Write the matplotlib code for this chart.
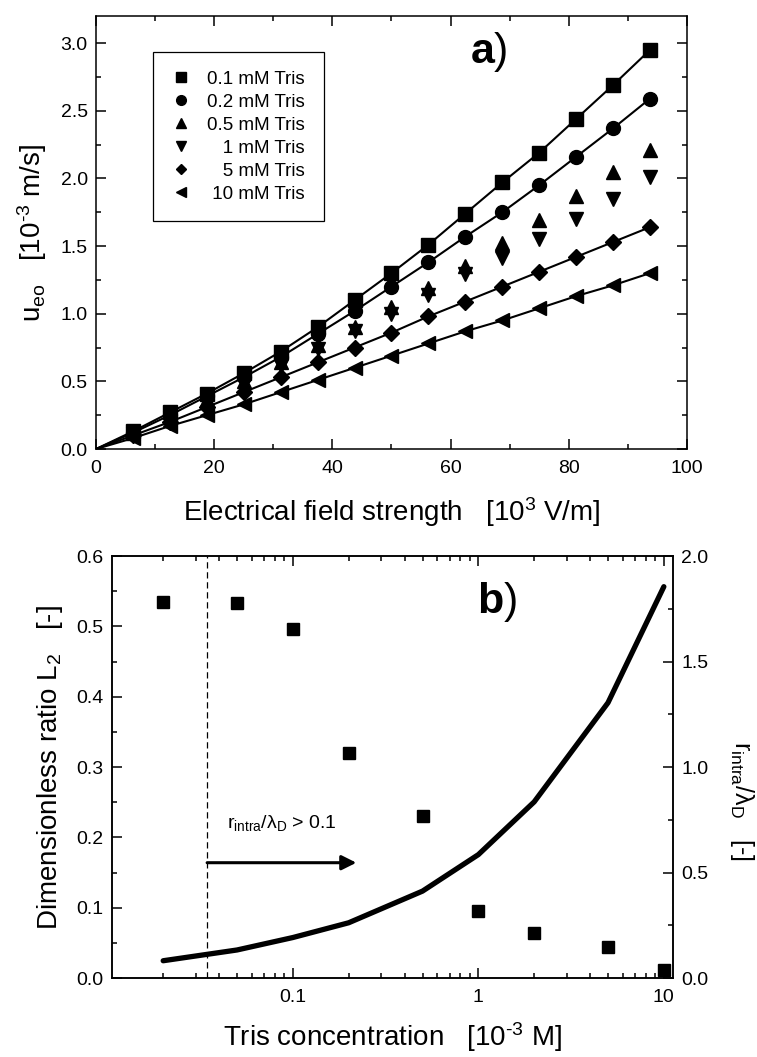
import numpy as np
import matplotlib
matplotlib.use('Agg')
import matplotlib.pyplot as plt
from matplotlib.ticker import MultipleLocator, LogLocator, FuncFormatter, NullFormatter

plt.rcParams['font.family'] = ['Liberation Sans', 'DejaVu Sans']
plt.rcParams['mathtext.fontset'] = 'custom'
plt.rcParams['mathtext.rm'] = 'Liberation Sans'
plt.rcParams['mathtext.it'] = 'Liberation Sans:italic'
plt.rcParams['mathtext.bf'] = 'Liberation Sans:bold'
plt.rcParams['axes.linewidth'] = 1.1

# panel a) electroosmotic velocity vs field strength
field = [6.25, 12.5, 18.75, 25.0, 31.25, 37.5, 43.75, 50.0, 56.25, 62.5, 68.75, 75.0, 81.25, 87.5, 93.75]
u_01 = [0.13, 0.27, 0.41, 0.56, 0.72, 0.90, 1.10, 1.30, 1.51, 1.74, 1.97, 2.19, 2.44, 2.69, 2.95]
u_02 = [0.12, 0.25, 0.39, 0.53, 0.68, 0.85, 1.02, 1.20, 1.38, 1.57, 1.75, 1.95, 2.16, 2.37, 2.59]
u_05 = [0.12, 0.24, 0.37, 0.50, 0.64, 0.77, 0.90, 1.05, 1.19, 1.35, 1.52, 1.69, 1.87, 2.05, 2.21]
u_1 = [0.11, 0.23, 0.35, 0.48, 0.61, 0.74, 0.87, 1.00, 1.14, 1.29, 1.41, 1.55, 1.70, 1.85, 2.01]
u_5 = [0.10, 0.20, 0.31, 0.42, 0.53, 0.64, 0.75, 0.86, 0.98, 1.09, 1.20, 1.31, 1.42, 1.53, 1.64]
u_10 = [0.08, 0.17, 0.25, 0.33, 0.42, 0.51, 0.60, 0.69, 0.78, 0.87, 0.95, 1.04, 1.13, 1.21, 1.30]
labels_a = ['0.1 mM Tris', '0.2 mM Tris', '0.5 mM Tris', '   1 mM Tris', '   5 mM Tris', ' 10 mM Tris']

# panel b) L2 ratio and r_intra/lambda_D vs Tris concentration
conc = [0.02, 0.05, 0.1, 0.2, 0.5, 1, 2, 5, 10]
L2 = [0.535, 0.533, 0.497, 0.320, 0.230, 0.095, 0.064, 0.044, 0.012]
r_ratio = [0.082, 0.133, 0.192, 0.262, 0.412, 0.585, 0.835, 1.305, 1.855]
c_limit = 0.0345

fig = plt.figure(figsize=(7.57, 10.57), dpi=100)
ax = fig.add_axes([0.1268, 0.5752, 0.7807, 0.4096])

series = [u_01, u_02, u_05, u_1, u_5, u_10]
markers = ['s', 'o', '^', 'v', 'D', '<']
msizes = [9.5, 10, 10, 10, 8, 10]
with_line = [True, True, False, False, True, True]
handles = []
for vals, m, ms, wl, lab in zip(series, markers, msizes, with_line, labels_a):
    if wl:
        ax.plot([0] + field, [0] + vals, color='k', lw=1.5, zorder=2)
    h, = ax.plot(field, vals, linestyle='none', marker=m, ms=ms, color='k', label=lab, zorder=3)
    handles.append(h)

ax.set_xlim(0, 100)
ax.set_ylim(0, 3.2)
ax.xaxis.set_major_locator(MultipleLocator(20))
ax.xaxis.set_minor_locator(MultipleLocator(10))
ax.yaxis.set_major_locator(MultipleLocator(0.5))
ax.yaxis.set_minor_locator(MultipleLocator(0.25))
ax.yaxis.set_major_formatter(FuncFormatter(lambda v, p: f'{v:.1f}'))
ax.tick_params(which='both', direction='in', top=True, right=True, labelsize=14, width=1.1)
ax.tick_params(which='major', length=7)
ax.tick_params(which='minor', length=3.5)
ax.tick_params(axis='x', pad=8)
ax.tick_params(axis='y', pad=6)
ax.set_xlabel('Electrical field strength   [10$^{3}$ V/m]', fontsize=20, labelpad=13)
ax.set_ylabel(r'u$_{\mathrm{eo}}$   [10$^{\text{-3}}$ m/s]', fontsize=20, labelpad=8)
ax.text(0.665, 0.917, r'$\mathbf{a}$)', transform=ax.transAxes, fontsize=31,
        ha='center', va='center')

leg = ax.legend(handles=handles, loc='upper left', bbox_to_anchor=(0.0964, 0.917),
                borderaxespad=0, fontsize=13.5, markerscale=0.7, handlelength=1.0,
                handletextpad=0.9, labelspacing=0.31, borderpad=1.0, fancybox=False,
                edgecolor='k', framealpha=1)
leg.get_frame().set_linewidth(0.9)

# panel b
bx = fig.add_axes([0.148, 0.0747, 0.741, 0.3992])
bx.plot(conc, L2, linestyle='none', marker='s', ms=9, color='k', zorder=3)
bx.set_xscale('log')
bx.set_xlim(0.0106, 11.2)
bx.set_ylim(0, 0.6)
bx.axvline(c_limit, color='k', lw=0.9, linestyle=(0, (5, 3)))
bx.annotate('', xy=(0.22, 0.164), xytext=(c_limit, 0.164),
            arrowprops=dict(arrowstyle='-|>', color='k', lw=2.2, mutation_scale=22,
                            shrinkA=0, shrinkB=0))
bx.text(0.044, 0.213, r'r$_{\mathrm{intra}}$/λ$_{\mathrm{D}}$ > 0.1', fontsize=14,
        ha='left', va='baseline')
bx.xaxis.set_major_locator(LogLocator(base=10, numticks=10))
bx.xaxis.set_minor_locator(LogLocator(base=10, subs=np.arange(2, 10), numticks=20))
bx.xaxis.set_minor_formatter(NullFormatter())
bx.xaxis.set_major_formatter(FuncFormatter(lambda v, p: f'{v:g}'))
bx.yaxis.set_major_locator(MultipleLocator(0.1))
bx.yaxis.set_minor_locator(MultipleLocator(0.05))
bx.yaxis.set_major_formatter(FuncFormatter(lambda v, p: f'{v:.1f}'))
bx.tick_params(which='both', direction='in', top=True, right=False, labelsize=14, width=1.1)
bx.tick_params(which='major', length=7)
bx.tick_params(which='minor', length=3.5)
bx.tick_params(axis='x', pad=8)
bx.tick_params(axis='y', pad=6)
bx.set_xlabel(r'Tris concentration   [10$^{\text{-3}}$ M]', fontsize=20, labelpad=10)
bx.set_ylabel('Dimensionless ratio L$_{2}$   [-]', fontsize=20, labelpad=8)
bx.text(0.686, 0.891, r'$\mathbf{b}$)', transform=bx.transAxes, fontsize=31,
        ha='center', va='center')

rx = bx.twinx()
rx.plot(conc, r_ratio, color='k', lw=3.8, solid_capstyle='round', zorder=2)
rx.set_ylim(0, 2.0)
rx.yaxis.set_major_locator(MultipleLocator(0.5))
rx.yaxis.set_minor_locator(MultipleLocator(0.25))
rx.yaxis.set_major_formatter(FuncFormatter(lambda v, p: f'{v:.1f}'))
rx.tick_params(which='both', direction='in', labelsize=14, width=1.1, pad=6)
rx.tick_params(which='major', length=7)
rx.tick_params(which='minor', length=3.5)
rx.set_ylabel(r'r$_{\mathrm{intra}}$/λ$_{\mathrm{D}}$   [-]', fontsize=18, rotation=270,
              ha='center', va='center')
rx.yaxis.set_label_coords(1.123, 0.42)

fig.savefig('out.png', dpi=100)
